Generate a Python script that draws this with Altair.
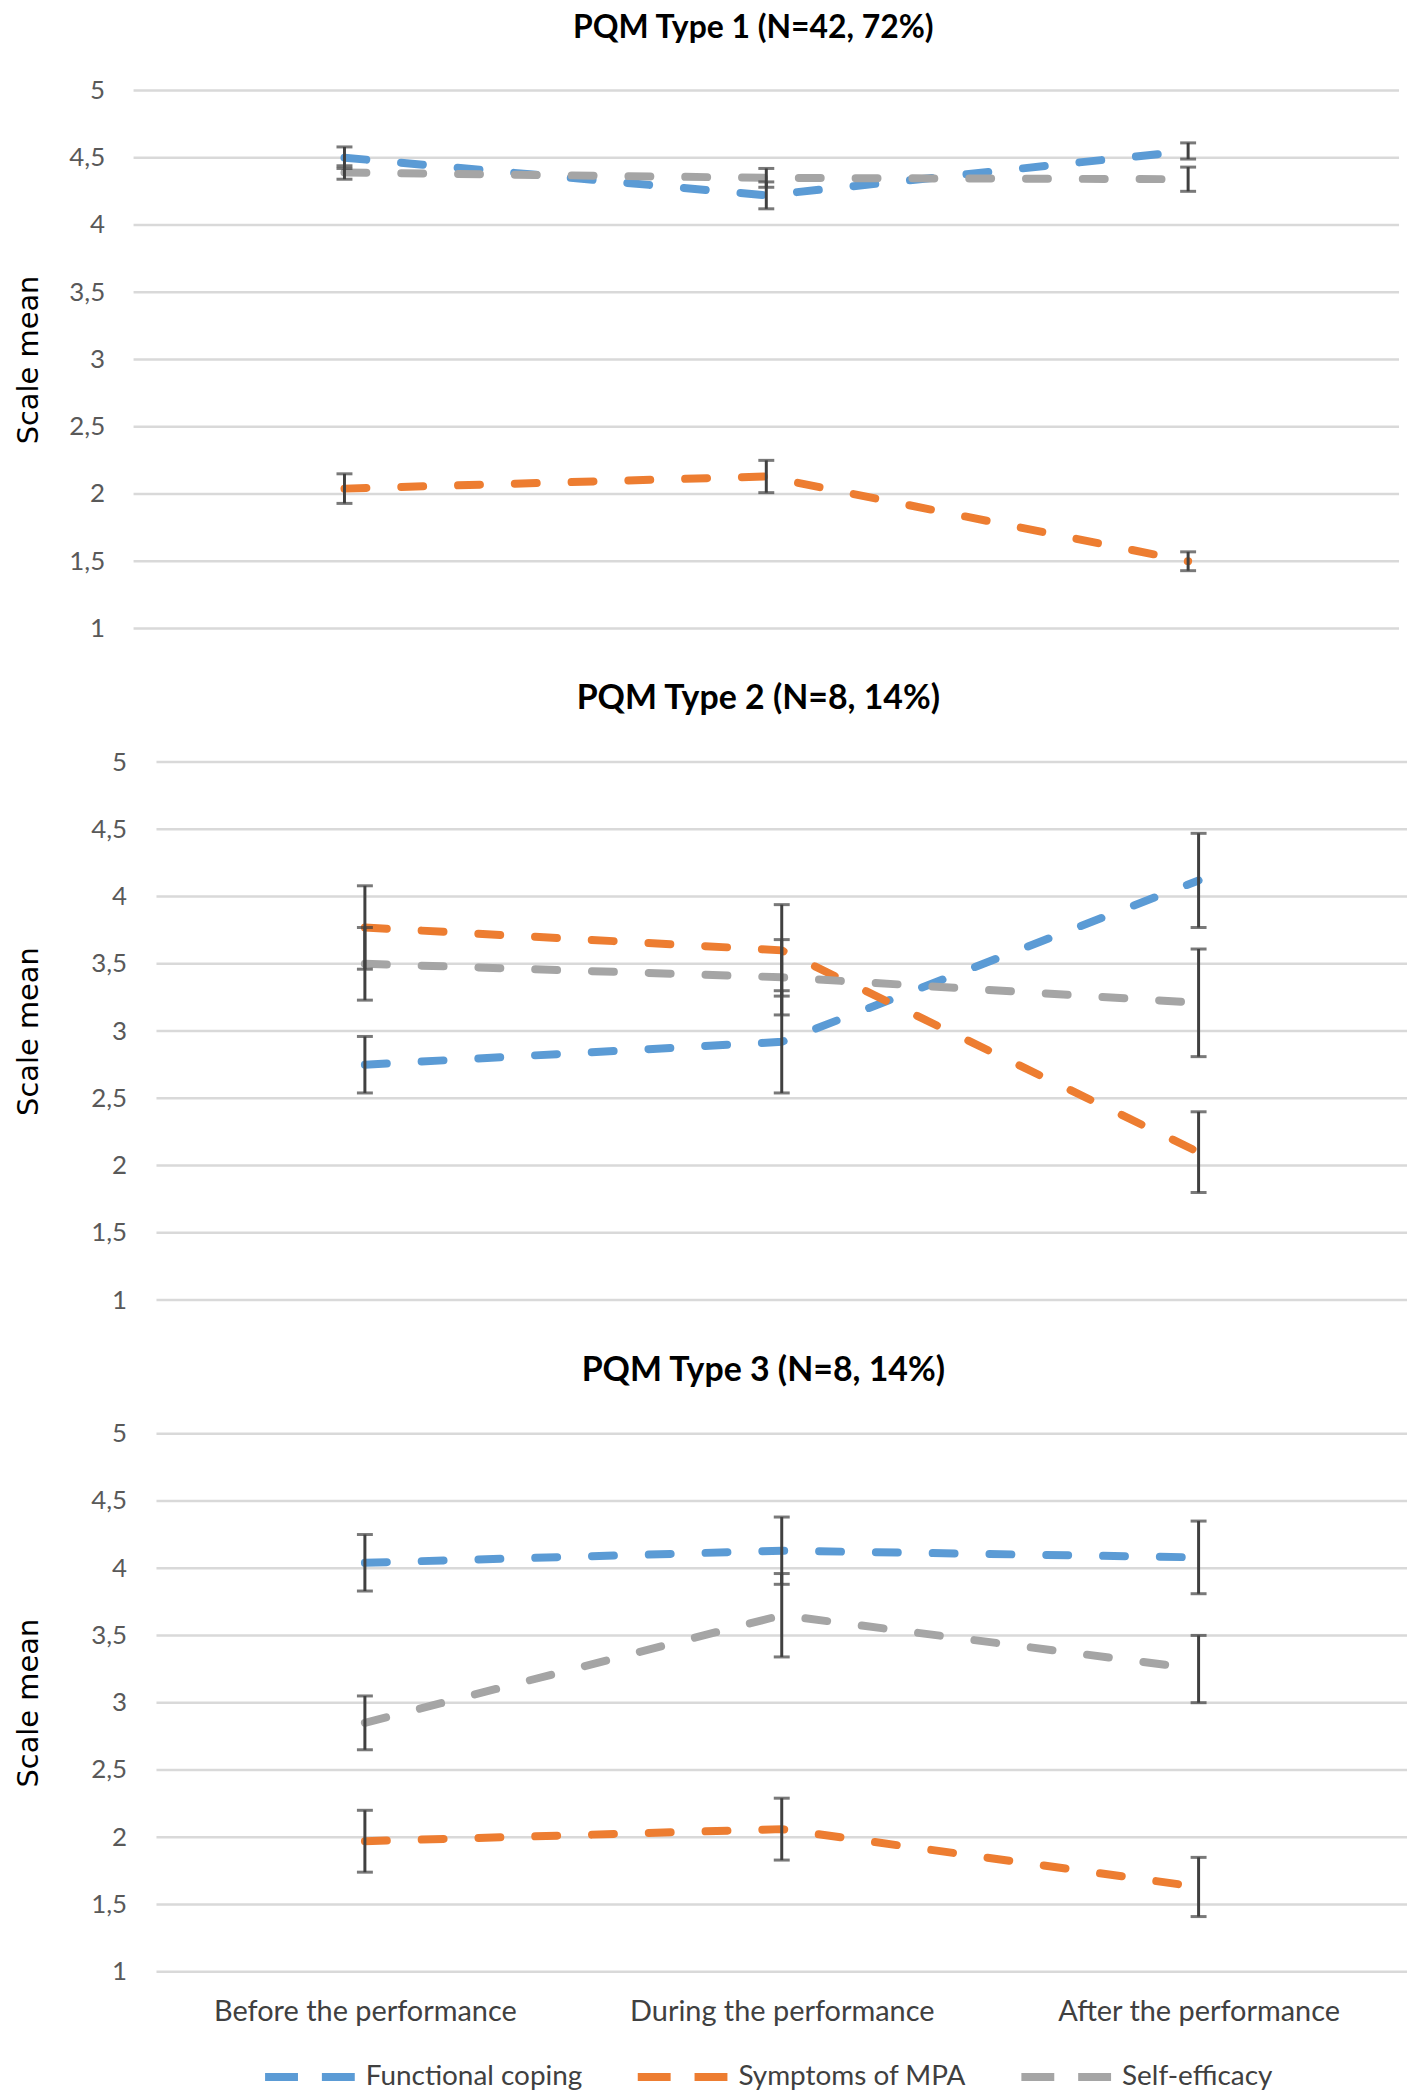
import altair as alt
import pandas as pd

categories = ["Before the performance", "During the performance", "After the performance"]
series_names = ["Functional coping", "Symptoms of MPA", "Self-efficacy"]
series_colors = ["#5B9BD5", "#ED7D31", "#A5A5A5"]
panel_titles = ["PQM Type 1 (N=42, 72%)", "PQM Type 2 (N=8, 14%)", "PQM Type 3 (N=8, 14%)"]
y_ticks = [1, 1.5, 2, 2.5, 3, 3.5, 4, 4.5, 5]

# PQM Type 1
t1_coping = [4.50, 4.22, 4.55]
t1_coping_err = [0.08, 0.10, 0.06]
t1_mpa = [2.04, 2.13, 1.50]
t1_mpa_err = [0.11, 0.12, 0.07]
t1_self = [4.39, 4.35, 4.34]
t1_self_err = [0.05, 0.07, 0.09]

# PQM Type 2
t2_coping = [2.75, 2.92, 4.12]
t2_coping_err = [0.21, 0.38, 0.35]
t2_mpa = [3.77, 3.60, 2.10]
t2_mpa_err = [0.31, 0.34, 0.30]
t2_self = [3.50, 3.40, 3.21]
t2_self_err = [0.27, 0.28, 0.40]

# PQM Type 3
t3_coping = [4.04, 4.13, 4.08]
t3_coping_err = [0.21, 0.25, 0.27]
t3_mpa = [1.97, 2.06, 1.63]
t3_mpa_err = [0.23, 0.23, 0.22]
t3_self = [2.85, 3.65, 3.25]
t3_self_err = [0.20, 0.31, 0.25]

panels = [
    [(t1_coping, t1_coping_err), (t1_mpa, t1_mpa_err), (t1_self, t1_self_err)],
    [(t2_coping, t2_coping_err), (t2_mpa, t2_mpa_err), (t2_self, t2_self_err)],
    [(t3_coping, t3_coping_err), (t3_mpa, t3_mpa_err), (t3_self, t3_self_err)],
]

rows = []
for p, plist in enumerate(panels):
    for s, (means, errs) in enumerate(plist):
        for i, cat in enumerate(categories):
            rows.append({
                "panel": p,
                "series": series_names[s],
                "category": cat,
                "idx": i,
                "mean": means[i],
                "lo": means[i] - errs[i],
                "hi": means[i] + errs[i],
            })
df = pd.DataFrame(rows)
grid_df = pd.DataFrame({"tick": y_ticks})

yscale = alt.Scale(domain=[1, 5], nice=False, zero=False)
color = alt.Color(
    "series:N",
    scale=alt.Scale(domain=series_names, range=series_colors),
    legend=alt.Legend(
        orient="none", legendX=128, legendY=1944, direction="horizontal",
        title=None, symbolType="stroke", symbolSize=8281, symbolStrokeWidth=8,
        symbolDash=[33, 24], labelFontSize=28, labelFont="Lato",
        labelColor="#404040", columnPadding=39, labelOffset=6, labelLimit=400,
    ),
)

settings = [
    # xrange, label padding, title padding, show x axis, title dx, title size, title offset
    ([0, 1270], 29, 25, False, -17, 32, 8),
    ([23, 1278], 7, 47, False, -12, 34, 6),
    ([23, 1278], 7, 47, True, -7, 34, 6),
]


def make_panel(p):
    xrange, lpad, tpad, show_x, dx, tsize, toff = settings[p]
    yaxis = alt.Axis(
        values=y_ticks,
        labelExpr="replace(format(datum.value, '~g'), '.', ',')",
        grid=False, domain=False, ticks=False, tickSize=0,
        labelPadding=lpad, titlePadding=tpad, title="Scale mean",
        labelFontSize=26, labelFont="Lato", labelColor="#595959",
        titleFontSize=29, titleFont="DejaVu Sans", titleFontWeight="normal",
        titleColor="#000000",
    )
    if show_x:
        xaxis = alt.Axis(
            title=None, ticks=False, tickSize=0, domain=False, grid=False,
            labelAngle=0, labelFontSize=29, labelFont="Lato",
            labelColor="#404040", labelPadding=26, labelLimit=500,
        )
    else:
        xaxis = None
    x = alt.X("category:N", sort=categories,
              scale=alt.Scale(type="point", padding=0.5, range=xrange),
              axis=xaxis)
    base = alt.Chart(df[df["panel"] == p])

    grid = alt.Chart(grid_df).mark_rule(color="#D9D9D9", strokeWidth=2.5).encode(
        y=alt.Y("tick:Q", scale=yscale, axis=yaxis),
        x=alt.value(xrange[0]),
        x2=alt.value(xrange[1]),
    )
    line = base.mark_line(strokeWidth=8, strokeDash=[22, 35], strokeCap="round").encode(
        x=x,
        y=alt.Y("mean:Q", scale=yscale, axis=yaxis),
        color=color,
        order=alt.Order("idx:Q"),
    )
    stem = base.mark_rule(color="#404040", strokeWidth=3).encode(
        x=x, y=alt.Y("lo:Q", scale=yscale, axis=yaxis), y2="hi:Q"
    )
    cap_lo = base.mark_tick(color="#404040", size=16, thickness=3).encode(
        x=x, y=alt.Y("lo:Q", scale=yscale, axis=yaxis)
    )
    cap_hi = base.mark_tick(color="#404040", size=16, thickness=3).encode(
        x=x, y=alt.Y("hi:Q", scale=yscale, axis=yaxis)
    )
    return alt.layer(grid, line, stem, cap_lo, cap_hi).properties(
        width=1278, height=540,
        title=alt.TitleParams(
            text=panel_titles[p], fontSize=tsize, font="Lato", fontWeight="bold",
            color="#000000", baseline="alphabetic", offset=toff, frame="group",
            anchor="middle", dx=dx,
        ),
    )


chart = alt.vconcat(make_panel(0), make_panel(1), make_panel(2), spacing=41).properties(
    padding={"left": 6, "top": 0, "right": 0, "bottom": 0}
).configure_view(stroke=None)

chart.save("out.html", embed_options={"renderer": "svg", "actions": False})
